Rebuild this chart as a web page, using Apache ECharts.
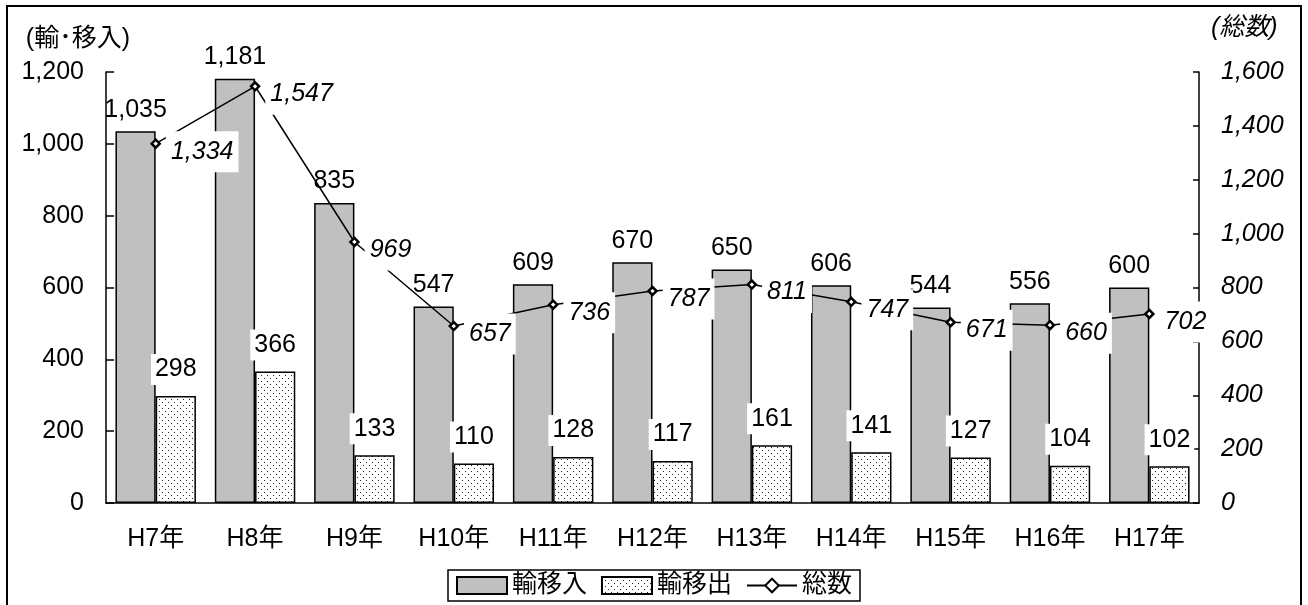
<!DOCTYPE html>
<html>
<head>
<meta charset="utf-8">
<script src="https://cdn.jsdelivr.net/npm/echarts@6/dist/echarts.min.js"></script>
<style>
  html, body { margin: 0; padding: 0; background: #fff; }
  #chart { width: 1308px; height: 605px; }
</style>
</head>
<body>
<div id="chart"></div>
<script>
// data
var categories = ['H7年', 'H8年', 'H9年', 'H10年', 'H11年', 'H12年', 'H13年', 'H14年', 'H15年', 'H16年', 'H17年']
var importIn = [1035, 1181, 835, 547, 609, 670, 650, 606, 544, 556, 600]
var exportOut = [298, 366, 133, 110, 128, 117, 161, 141, 127, 104, 102]
var total = [1334, 1547, 969, 657, 736, 787, 811, 747, 671, 660, 702]

var FONT = '"Liberation Sans", Arial, "Noto Sans CJK JP", sans-serif'
var FS = 25

// dotted fill for 輸移出
function makeDots() {
  var c = document.createElement('canvas')
  c.width = 6
  c.height = 6
  var ctx = c.getContext('2d')
  ctx.fillStyle = '#fff'
  ctx.fillRect(0, 0, 6, 6)
  ctx.fillStyle = '#222'
  ctx.fillRect(0, 0, 1, 1)
  ctx.fillRect(3, 3, 1, 1)
  return c
}
var dots = { image: makeDots(), repeat: 'repeat' }

function fmt(v) { return Number(v).toLocaleString('en-US') }

var chart = echarts.init(document.getElementById('chart'))

chart.setOption({
  animation: false,
  textStyle: { fontFamily: FONT, color: '#000' },
  graphic: [
    {
      type: 'rect',
      shape: { x: 7, y: 6, width: 1294, height: 660 },
      style: { fill: 'none', stroke: '#000', lineWidth: 2 },
      silent: true
    }
  ],
  grid: { left: 106, right: 109, top: 72, bottom: 102 },
  legend: {
    bottom: 4,
    left: 'center',
    itemWidth: 50,
    itemHeight: 17,
    itemGap: 14,
    padding: [3, 8, 3, 8],
    borderColor: '#000',
    borderWidth: 1.5,
    textStyle: { fontSize: FS, fontFamily: FONT, color: '#000', padding: [0, 0, 0, 0] },
    data: [
      { name: '輸移入', icon: 'rect' },
      { name: '輸移出', icon: 'rect' },
      { name: '総数' }
    ]
  },
  xAxis: {
    type: 'category',
    data: categories,
    axisLine: { lineStyle: { color: '#000', width: 1.5 } },
    axisTick: { inside: true, length: 6, lineStyle: { color: '#000', width: 1.5 } },
    axisLabel: { fontSize: FS, color: '#000', margin: 24, fontFamily: FONT }
  },
  yAxis: [
    {
      type: 'value',
      min: 0,
      max: 1200,
      interval: 200,
      name: '(輸･移入)',
      nameGap: 20,
      nameTextStyle: { fontSize: FS, color: '#000', align: 'right', padding: [0, -24, 0, 0], fontFamily: FONT },
      splitLine: { show: false },
      axisLine: { show: true, lineStyle: { color: '#000', width: 1.5 } },
      axisTick: { show: true, inside: true, length: 8, lineStyle: { color: '#000', width: 1.5 } },
      axisLabel: { fontSize: FS, color: '#000', margin: 22, fontFamily: FONT, formatter: fmt }
    },
    {
      type: 'value',
      min: 0,
      max: 1600,
      interval: 200,
      name: '(総数)',
      nameGap: 31,
      nameTextStyle: { fontSize: FS, color: '#000', fontStyle: 'italic', align: 'left', padding: [0, 0, 0, 12], fontFamily: FONT },
      splitLine: { show: false },
      axisLine: { show: true, lineStyle: { color: '#000', width: 1.5 } },
      axisTick: { show: true, inside: true, length: 6, lineStyle: { color: '#000', width: 1.5 } },
      axisLabel: { fontSize: FS, color: '#000', margin: 22, fontStyle: 'italic', fontFamily: FONT, formatter: fmt }
    }
  ],
  series: [
    {
      name: '輸移入',
      type: 'bar',
      data: importIn,
      barGap: '0%',
      barCategoryGap: '19%',
      itemStyle: { color: '#c0c0c0', borderColor: '#000', borderWidth: 1.5 },
      label: {
        show: true,
        position: 'top',
        distance: 9,
        fontSize: FS,
        color: '#000',
        fontFamily: FONT,
        formatter: function (p) { return fmt(p.value) }
      }
    },
    {
      name: '輸移出',
      type: 'bar',
      data: exportOut,
      itemStyle: { color: dots, borderColor: '#000', borderWidth: 1.5 },
      label: {
        show: true,
        position: 'top',
        distance: 11,
        fontSize: FS,
        color: '#000',
        fontFamily: FONT,
        backgroundColor: '#fff',
        padding: [3, 4]
      }
    },
    {
      name: '総数',
      type: 'line',
      yAxisIndex: 1,
      data: total,
      symbol: 'diamond',
      symbolSize: 8,
      z: 5,
      lineStyle: { color: '#000', width: 1.5 },
      itemStyle: { color: '#fff', borderColor: '#000', borderWidth: 2.5 },
      label: {
        show: true,
        position: 'right',
        offset: [0, 8],
        fontSize: FS,
        fontStyle: 'italic',
        color: '#000',
        fontFamily: FONT,
        backgroundColor: '#fff',
        padding: [8, 5],
        formatter: function (p) { return fmt(p.value) }
      }
    }
  ]
})
</script>
</body>
</html>
